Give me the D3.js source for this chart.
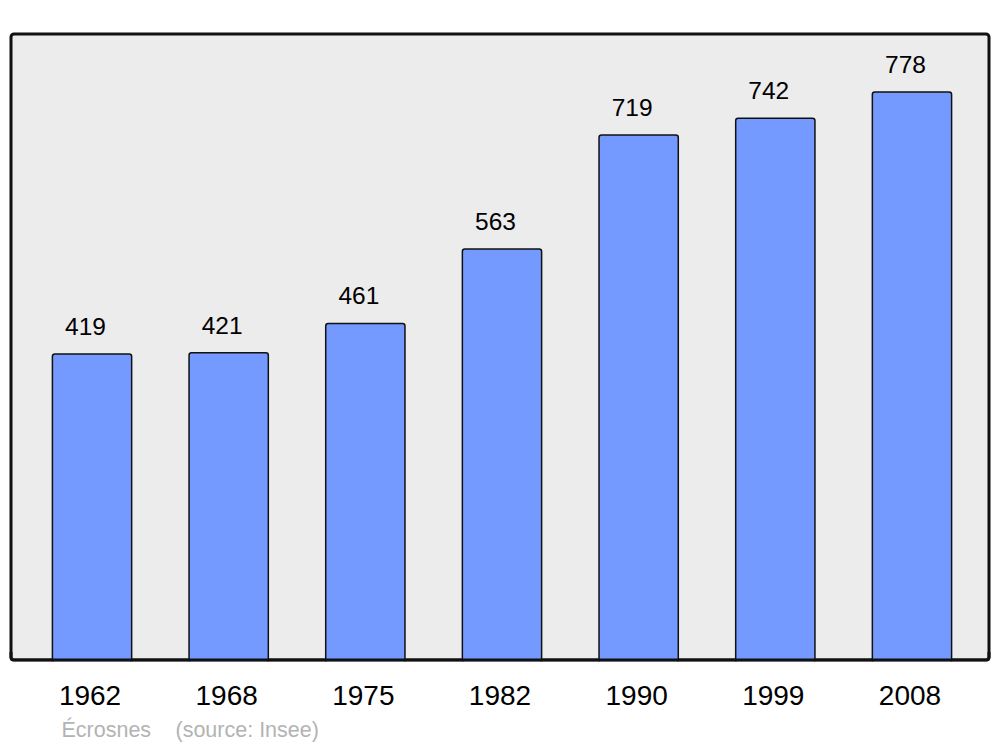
<!DOCTYPE html>
<html><head><meta charset="utf-8">
<script src="https://cdn.jsdelivr.net/npm/d3@7"></script>
<style>body{margin:0;background:#fff}svg{display:block}text{font-family:"Liberation Sans",Arial,sans-serif}</style>
</head><body>
<script>
const years = ["1962","1968","1975","1982","1990","1999","2008"];
const population = [419,421,461,563,719,742,778];
const footerLabels = ["Écrosnes", "(source: Insee)"];

const W = 1000, H = 747;
const svg = d3.select("body").append("svg").attr("width", W).attr("height", H);

const panel = {x0: 11, x1: 989, y0: 34, y1: 660};
const x = d3.scaleBand().domain(years).range([23.7, 980.3]).paddingInner(0.42).paddingOuter(0.21);
const y = d3.scaleLinear().domain([0, 778]).range([panel.y1, 92]);

svg.append("rect").attr("x", panel.x0).attr("y", panel.y0)
  .attr("width", panel.x1 - panel.x0).attr("height", panel.y1 - panel.y0)
  .attr("rx", 3).attr("fill", "#ececec").attr("stroke", "#111").attr("stroke-width", 3);

const data = years.map((yr, i) => ({yr, v: population[i]}));

svg.selectAll("rect.bar").data(data).enter().append("rect").attr("class", "bar")
  .attr("x", d => x(d.yr)).attr("y", d => y(d.v))
  .attr("width", x.bandwidth()).attr("height", d => y(0) - y(d.v) + 3)
  .attr("rx", 2.5).attr("fill", "#7499ff").attr("stroke", "#111").attr("stroke-width", 1.5);

svg.append("rect").attr("x", 0).attr("y", panel.y1 + 1.5).attr("width", W).attr("height", 10).attr("fill", "#fff");
svg.append("path")
  .attr("d", `M${panel.x0},${panel.y1 - 8} L${panel.x0},${panel.y1 - 3} Q${panel.x0},${panel.y1} ${panel.x0 + 3},${panel.y1} L${panel.x1 - 3},${panel.y1} Q${panel.x1},${panel.y1} ${panel.x1},${panel.y1 - 3} L${panel.x1},${panel.y1 - 8}`)
  .attr("fill", "none").attr("stroke", "#111").attr("stroke-width", 3);

svg.selectAll("text.val").data(data).enter().append("text").attr("class", "val")
  .attr("x", d => x(d.yr) + x.bandwidth() / 2 - 6.5).attr("y", d => y(d.v) - 19)
  .attr("text-anchor", "middle").attr("font-size", 24.5).attr("fill", "#000").text(d => d.v);

svg.selectAll("text.yr").data(years).enter().append("text").attr("class", "yr")
  .attr("x", d => x(d) + x.bandwidth() / 2 - 2).attr("y", 704.5)
  .attr("text-anchor", "middle").attr("font-size", 28).attr("fill", "#000").text(d => d);

svg.append("text").attr("x", 61.5).attr("y", 737).attr("font-size", 21.5).attr("fill", "#b3b3b3").text(footerLabels[0]);
svg.append("text").attr("x", 175.5).attr("y", 737).attr("font-size", 21.5).attr("fill", "#b3b3b3").text(footerLabels[1]);
</script>
</body></html>
